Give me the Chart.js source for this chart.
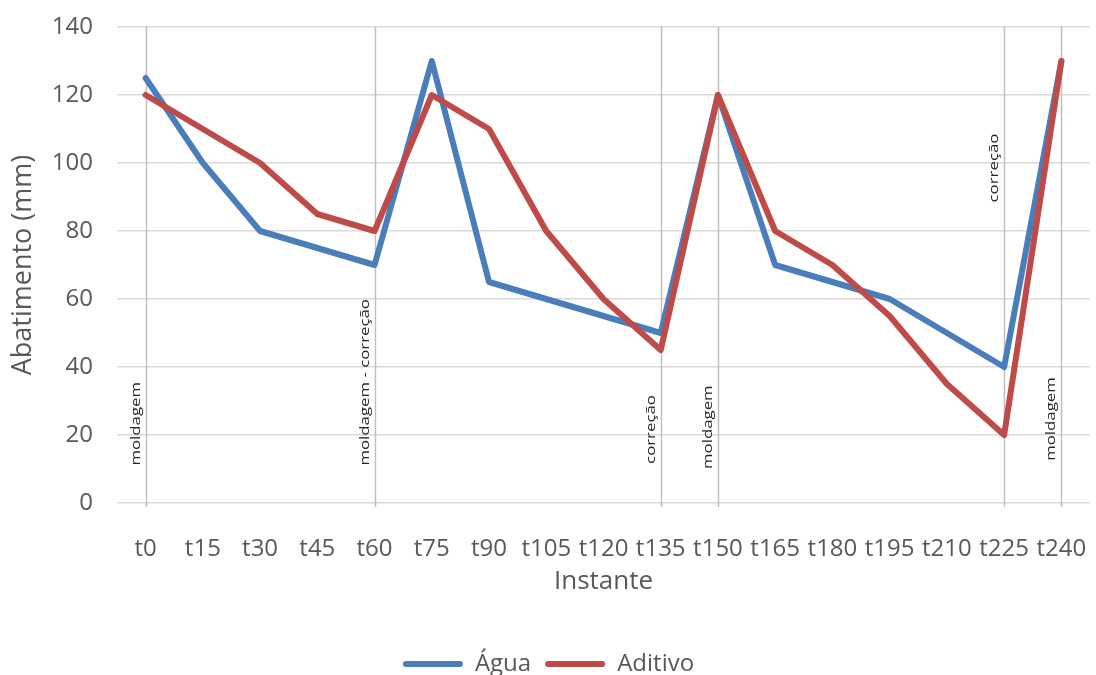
<!DOCTYPE html>
<html>
<head>
<meta charset="utf-8">
<script src="https://cdn.jsdelivr.net/npm/chart.js@4/dist/chart.umd.min.js"></script>
<style>
  html, body { margin: 0; padding: 0; background: #ffffff; }
  #wrap { width: 1096px; height: 675px; }
</style>
</head>
<body>
<div id="wrap"><canvas id="c" width="1096" height="675"></canvas></div>
<script>
// Instants of the slump test (minutes)
const instantes = ['t0','t15','t30','t45','t60','t75','t90','t105','t120','t135','t150','t165','t180','t195','t210','t225','t240'];

// Slump (mm) for each mix
const agua    = [125,100, 80, 75, 70,130, 65, 60, 55, 50,120, 70, 65, 60, 50, 40,130];
const aditivo = [120,110,100, 85, 80,120,110, 80, 60, 45,120, 80, 70, 55, 35, 20,130];

// Y axis ticks
const yTicks = [0, 20, 40, 60, 80, 100, 120, 140];

// Events marked on the time axis
const eventoInstante = ['t0','t60','t135','t150','t225','t240'];
const eventoTexto    = ['moldagem','moldagem - correção','correção','moldagem','correção','moldagem'];
const eventoBase     = [11, 11, 11.5, 10, 88.4, 12.4];   // value where each label starts

const AZUL = '#4a7ebb';
const VERMELHO = '#be4b48';
const CINZA = '#595959';
const FONTE = "'Open Sans', 'Liberation Sans', sans-serif";

const eventos = {
  id: 'eventos',
  beforeDatasetsDraw(chart) {
    const { ctx, chartArea, scales } = chart;
    const x = scales.x, y = scales.y;
    ctx.save();
    ctx.strokeStyle = '#bfbfbf';
    ctx.lineWidth = 1.5;
    eventoInstante.forEach((inst, i) => {
      const px = Math.round(x.getPixelForValue(instantes.indexOf(inst))) + 0.5;
      ctx.beginPath();
      ctx.moveTo(px, chartArea.top);
      ctx.lineTo(px, chartArea.bottom + 4);
      ctx.stroke();

      const py = y.getPixelForValue(eventoBase[i]);
      ctx.save();
      ctx.translate(px - 10, py);
      ctx.rotate(-Math.PI / 2);
      ctx.scale(1.4, 1);
      ctx.fillStyle = '#262626';
      ctx.font = "12px " + FONTE;
      ctx.textAlign = 'left';
      ctx.textBaseline = 'middle';
      ctx.fillText(eventoTexto[i], 0, 0);
      ctx.restore();
    });
    ctx.restore();
  }
};

new Chart(document.getElementById('c'), {
  type: 'line',
  data: {
    labels: instantes,
    datasets: [
      { label: 'Água', data: agua, borderColor: AZUL, backgroundColor: AZUL, order: 1 },
      { label: 'Aditivo', data: aditivo, borderColor: VERMELHO, backgroundColor: VERMELHO, order: 0 }
    ]
  },
  options: {
    responsive: false,
    animation: false,
    layout: { padding: { left: 7, right: 6, top: 27, bottom: -11 } },
    elements: {
      line: { borderWidth: 6, tension: 0, borderJoinStyle: 'round', borderCapStyle: 'round', fill: false },
      point: { radius: 0, hoverRadius: 0 }
    },
    plugins: {
      legend: {
        position: 'bottom',
        labels: {
          boxWidth: 60,
          boxHeight: 6,
          useBorderRadius: true,
          borderRadius: 3,
          padding: 14,
          color: CINZA,
          font: { family: FONTE, size: 24 },
          sort: (a, b) => a.datasetIndex - b.datasetIndex,
          generateLabels(chart) {
            return Chart.defaults.plugins.legend.labels.generateLabels(chart).map(l => Object.assign(l, { lineWidth: 0 }));
          }
        }
      },
      tooltip: { enabled: false }
    },
    scales: {
      x: {
        offset: true,
        afterFit(scale) { scale.paddingLeft = 0; scale.paddingRight = 0; scale.height = 135; },
        grid: { display: false },
        border: { display: false },
        ticks: { color: CINZA, font: { family: FONTE, size: 24 }, autoSkip: false, maxRotation: 0, minRotation: 0, padding: 24 },
        title: { display: true, text: 'Instante', color: CINZA, font: { family: FONTE, size: 26 }, padding: { top: 0, bottom: 41 } }
      },
      y: {
        min: 0,
        max: 140,
        afterBuildTicks(scale) { scale.ticks = yTicks.map(v => ({ value: v })); },
        afterFit(scale) { scale.width = 110; scale.paddingTop = 0; scale.paddingBottom = 0; },
        grid: { color: '#d9d9d9', lineWidth: 1.5, drawTicks: false },
        border: { display: false },
        ticks: { color: CINZA, font: { family: FONTE, size: 24 }, padding: 24 },
        title: { display: true, text: 'Abatimento (mm)', color: CINZA, font: { family: FONTE, size: 27 }, padding: 0 }
      }
    }
  },
  plugins: [eventos]
});
</script>
</body>
</html>
